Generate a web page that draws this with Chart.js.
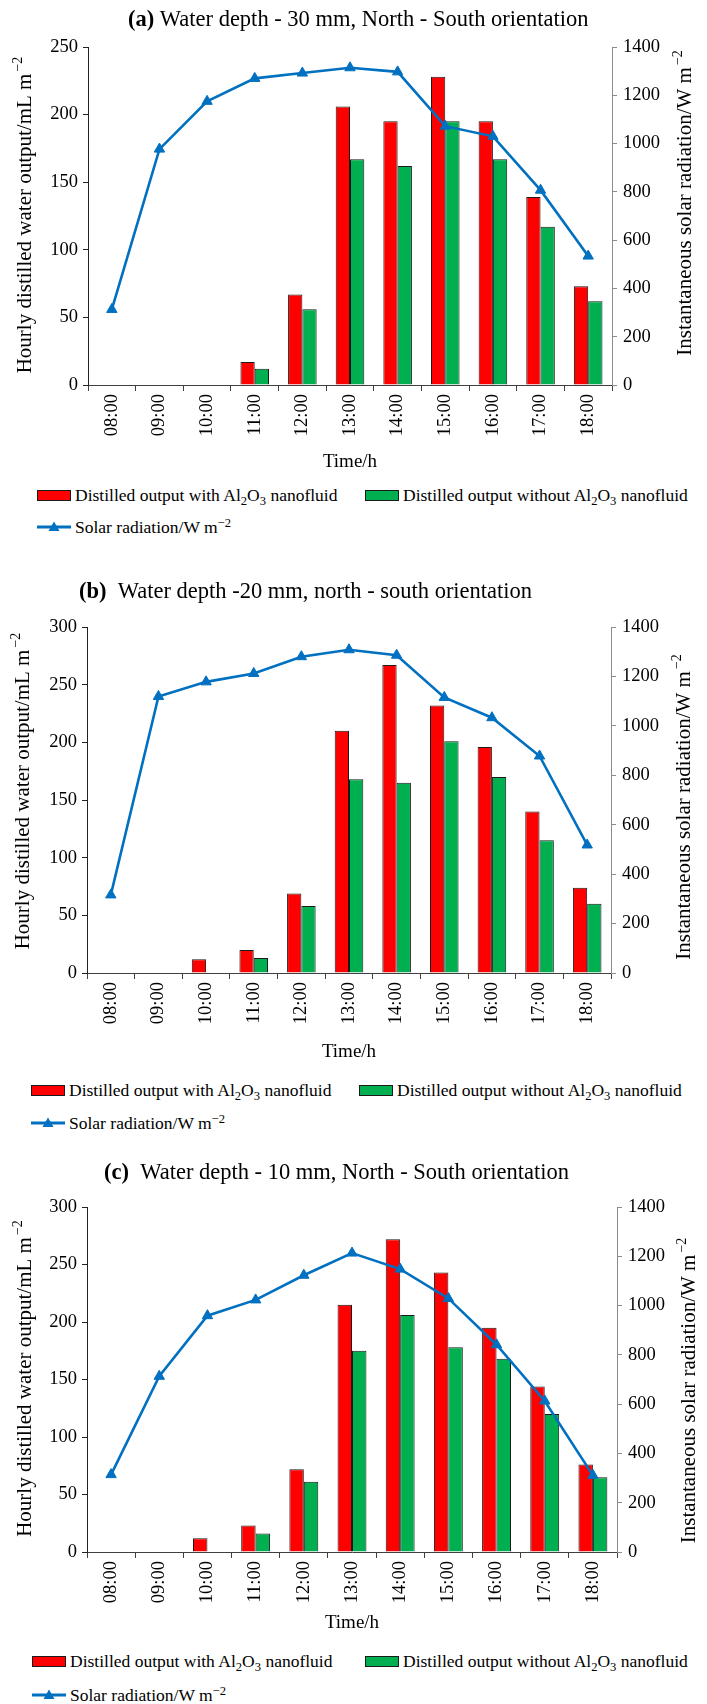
<!DOCTYPE html>
<html>
<head>
<meta charset="utf-8">
<script src="https://cdn.jsdelivr.net/npm/chart.js@4.4.1/dist/chart.umd.min.js"></script>
<style>
  body { margin: 0; background: #fff; width: 707px; height: 1704px; position: relative; overflow: hidden;
         font-family: "Liberation Serif", "Times New Roman", serif; }
  canvas { position: absolute; left: 0; }
  .lg { position: absolute; display: flex; align-items: center; height: 24px; font-size: 17.5px;
        white-space: nowrap; color: #000; }
  .lg .box { width: 34px; height: 11px; border: 1.5px solid #1a1a1a; box-sizing: border-box; margin-right: 4px; }
  .lg svg { margin-right: 4px; }
  .lg sub { font-size: 0.72em; vertical-align: -0.35em; line-height: 0; }
  .lg sup { font-size: 0.72em; vertical-align: 0.45em; line-height: 0; }
</style>
</head>
<body>
<canvas id="chartA" width="707" height="480" style="top:0px"></canvas>
<canvas id="chartB" width="707" height="510" style="top:560px"></canvas>
<canvas id="chartC" width="707" height="501" style="top:1140px"></canvas>
<div id="legends"></div>
<script>
// hours of the day
const hours = ["08:00", "09:00", "10:00", "11:00", "12:00", "13:00", "14:00", "15:00", "16:00", "17:00", "18:00"];

// (a) water depth 30 mm
const withNanoA = [0, 0, 0, 17, 67, 206, 195, 228, 195, 139, 73];
const withoutNanoA = [0, 0, 0, 12, 56, 167, 162, 195, 167, 117, 62];
const solarA = [313, 977, 1175, 1270, 1292, 1314, 1297, 1072, 1030, 807, 534];

// (b) water depth 20 mm
const withNanoB = [0, 0, 12, 20, 69, 210, 267, 232, 196, 140, 74];
const withoutNanoB = [0, 0, 0, 13, 58, 168, 165, 201, 170, 115, 60];
const solarB = [316, 1119, 1178, 1212, 1280, 1308, 1286, 1115, 1033, 878, 518];

// (c) water depth 10 mm
const withNanoC = [0, 0, 12, 23, 72, 215, 272, 243, 195, 144, 76];
const withoutNanoC = [0, 0, 0, 16, 61, 175, 206, 178, 168, 120, 65];
const solarC = [314, 713, 959, 1023, 1123, 1213, 1148, 1029, 841, 613, 311];

// tick labels
const outputTicksA = [0, 50, 100, 150, 200, 250];
const outputTicksBC = [0, 50, 100, 150, 200, 250, 300];
const solarTicks = [0, 200, 400, 600, 800, 1000, 1200, 1400];

const RED = "#FF0000";
const GREEN = "#00B050";
const BLUE = "#0070C0";
const FONT = "'Liberation Serif', 'Times New Roman', serif";

Chart.defaults.font.family = FONT;
Chart.defaults.color = "#000";

// heading with a bold tag, and rotated axis titles with superscripts
const paperText = {
  id: "paperText",
  afterDraw(chart, args, opts) {
    const { ctx, chartArea } = chart;
    ctx.save();
    ctx.fillStyle = "#000";
    ctx.textAlign = "left";
    ctx.textBaseline = "middle";
    ctx.font = "bold 22.5px " + FONT;
    ctx.fillText(opts.tag, opts.titleX, opts.titleY);
    const tagW = ctx.measureText(opts.tag).width;
    ctx.font = "22.5px " + FONT;
    ctx.fillText(opts.text, opts.titleX + tagW, opts.titleY);
    const midY = (chartArea.top + chartArea.bottom) / 2;
    drawRotated(ctx, opts.leftTitle, opts.leftX, midY + (opts.leftDy || 0));
    drawRotated(ctx, opts.rightTitle, opts.rightX, midY + (opts.rightDy || 0));
    ctx.restore();
  },
};

function drawRotated(ctx, parts, x, y) {
  const [main, sup] = parts;
  ctx.save();
  ctx.translate(x, y);
  ctx.rotate(-Math.PI / 2);
  ctx.textAlign = "left";
  ctx.textBaseline = "alphabetic";
  ctx.font = "21px " + FONT;
  const w1 = ctx.measureText(main).width;
  ctx.font = "14px " + FONT;
  const w2 = ctx.measureText(sup).width;
  const start = -(w1 + w2) / 2;
  ctx.font = "21px " + FONT;
  ctx.fillText(main, start, 7);
  ctx.font = "14px " + FONT;
  ctx.fillText(sup, start + w1 + 2, -2);
  ctx.restore();
}

function richText(s) {
  return s.replace("Al2O3", "Al<sub>2</sub>O<sub>3</sub>").replace("m-2", "m<sup>\u22122</sup>");
}

// legend built from the chart's datasets
function htmlLegend(chart, slots) {
  const host = document.getElementById("legends");
  chart.data.datasets.forEach((ds, i) => {
    const el = document.createElement("div");
    el.className = "lg";
    el.style.left = slots[i][0] + "px";
    el.style.top = slots[i][1] - 12 + "px";
    let mark;
    if (ds.type === "line") {
      mark =
        '<svg width="34" height="12"><line x1="0" y1="6" x2="34" y2="6" stroke="' + ds.borderColor +
        '" stroke-width="3"/><path d="M17 0.5 L22.5 10 L11.5 10 Z" fill="' + ds.borderColor + '"/></svg>';
    } else {
      mark = '<span class="box" style="background:' + ds.backgroundColor + '"></span>';
    }
    el.innerHTML = mark + "<span>" + richText(ds.label) + "</span>";
    host.appendChild(el);
  });
}

function makeChart(id, p) {
  const data = {
    labels: hours,
    datasets: [
      {
        label: "Distilled output with Al2O3 nanofluid",
        data: p.withNano,
        backgroundColor: RED,
        borderColor: "#1a1a1a",
        borderWidth: 1,
        order: 1,
      },
      {
        label: "Distilled output without Al2O3 nanofluid",
        data: p.withoutNano,
        backgroundColor: GREEN,
        borderColor: "#1a1a1a",
        borderWidth: 1,
        order: 1,
      },
      {
        type: "line",
        label: "Solar radiation/W m-2",
        data: p.solar,
        yAxisID: "y1",
        borderColor: BLUE,
        backgroundColor: BLUE,
        borderWidth: 2.6,
        tension: 0,
        pointStyle: "triangle",
        pointRadius: 6,
        pointBackgroundColor: BLUE,
        pointBorderColor: BLUE,
        pointBorderWidth: 1,
        order: 0,
      },
    ],
  };

  const config = {
    type: "bar",
    data: data,
    plugins: [paperText],
    options: {
      responsive: false,
      animation: false,
      layout: { padding: { top: p.plotTop, left: 0, right: 0, bottom: 0 } },
      datasets: { bar: { categoryPercentage: 0.6, barPercentage: 1 } },
      plugins: {
        legend: { display: false },
        tooltip: { enabled: false },
        paperText: {
          tag: p.tag,
          text: p.text,
          titleX: p.titleX,
          titleY: p.titleY,
          leftTitle: ["Hourly distilled water output/mL m", "\u22122"],
          rightTitle: ["Instantaneous solar radiation/W m", "\u22122"],
          leftX: p.leftX,
          rightX: p.rightX,
          leftDy: p.leftDy,
          rightDy: p.rightDy,
        },
      },
      scales: {
        x: {
          grid: { display: true, drawOnChartArea: false, drawTicks: true, tickLength: 6, color: "#404040", offset: true },
          border: { display: true, color: "#404040", width: 1 },
          ticks: { minRotation: 90, maxRotation: 90, autoSkip: false, padding: 3, font: { size: 18.5 } },
          title: { display: true, text: "Time/h", font: { size: 19 }, padding: { top: 0, bottom: 6.6 } },
          afterFit: (scale) => { scale.height = p.xHeight; },
        },
        y: {
          position: "left",
          min: p.outTicks[0],
          max: p.outTicks[p.outTicks.length - 1],
          afterBuildTicks: (scale) => { scale.ticks = p.outTicks.map((v) => ({ value: v })); },
          ticks: { padding: 5, font: { size: 18.5 }, callback: (v) => String(v) },
          grid: { drawOnChartArea: false, tickLength: 5, color: "#222" },
          border: { color: "#222", width: 1 },
          afterFit: (scale) => { scale.width = p.leftW; },
        },
        y1: {
          position: "right",
          min: solarTicks[0],
          max: solarTicks[solarTicks.length - 1],
          afterBuildTicks: (scale) => { scale.ticks = solarTicks.map((v) => ({ value: v })); },
          ticks: { padding: 6, font: { size: 18.5 }, callback: (v) => String(v) },
          grid: { drawOnChartArea: false, tickLength: 5, color: "#8c8c8c" },
          border: { color: "#8c8c8c", width: 1 },
          afterFit: (scale) => { scale.width = p.rightW; },
        },
      },
    },
  };

  const chart = new Chart(document.getElementById(id), config);
  htmlLegend(chart, p.slots);
  return chart;
}

makeChart("chartA", {
  withNano: withNanoA, withoutNano: withoutNanoA, solar: solarA, outTicks: outputTicksA,
  tag: "(a)", text: " Water depth - 30 mm, North - South orientation", titleX: 128, titleY: 20,
  plotTop: 47, xHeight: 95, leftW: 88, rightW: 95, leftX: 24, rightX: 684, leftDy: 0, rightDy: -12,
  slots: [[37, 495], [365, 495], [37, 527]],
});

makeChart("chartB", {
  withNano: withNanoB, withoutNano: withoutNanoB, solar: solarB, outTicks: outputTicksBC,
  tag: "(b)", text: "  Water depth -20 mm, north - south orientation", titleX: 79, titleY: 32,
  plotTop: 67, xHeight: 97, leftW: 87, rightW: 96, leftX: 22, rightX: 683, leftDy: -8, rightDy: 8,
  slots: [[31, 1090], [359, 1090], [31, 1123]],
});

makeChart("chartC", {
  withNano: withNanoC, withoutNano: withoutNanoC, solar: solarC, outTicks: outputTicksBC,
  tag: "(c)", text: "  Water depth - 10 mm, North - South orientation", titleX: 104, titleY: 33,
  plotTop: 67, xHeight: 89, leftW: 87, rightW: 90, leftX: 24, rightX: 688, leftDy: 0, rightDy: 12,
  slots: [[32, 1661], [365, 1661], [32, 1695]],
});
</script>
</body>
</html>
